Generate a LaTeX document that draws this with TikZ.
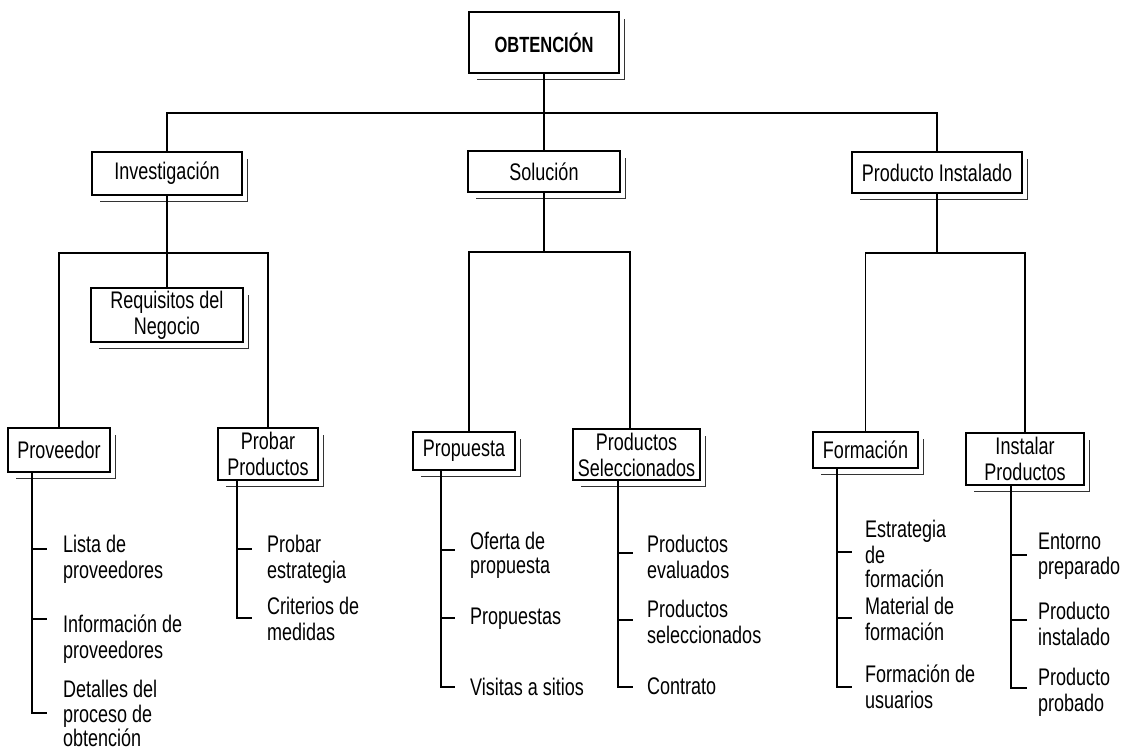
\documentclass[tikz,border=0pt]{standalone}
\usepackage{fontspec}
\setmainfont{Liberation Sans}[FakeStretch=0.75]
\usetikzlibrary{calc}
\begin{document}
\begin{tikzpicture}[x=1pt,y=-1pt,
  box/.style={draw, line width=1.7pt, fill=white, inner sep=2pt, align=center,
    font=\fontsize{24}{26}\selectfont},
  link/.style={line width=1.7pt},
  heavylink/.style={line width=2.6pt},
  shadeline/.style={line width=0.9pt, black!80},
  entry/.style={anchor=north west, inner sep=0pt, align=left,
    font=\fontsize{24}{24}\selectfont},
]
\useasboundingbox (0,0) rectangle (1133,753);

% ---------- boxes ----------
\node[box, minimum width=150pt, minimum height=61pt,
      font=\fontsize{22}{24}\selectfont\bfseries] (obt) at (544,42.5) {OBTENCIÓN};
\node[box, minimum width=150pt, minimum height=43pt] (inv) at (167,173.5) {Investigación};
\node[box, minimum width=152pt, minimum height=41pt] (sol) at (544,171.5) {Solución};
\node[box, minimum width=170pt, minimum height=41pt] (pin) at (937,172.5) {Producto Instalado};
\node[box, minimum width=152pt, minimum height=54pt] (req) at (167,315) {Requisitos del\\Negocio};
\node[box, minimum width=102pt, minimum height=44pt] (prov) at (59,450) {Proveedor};
\node[box, minimum width=100pt, minimum height=52pt] (pp) at (268,454) {Probar\\Productos};
\node[box, minimum width=102pt, minimum height=38pt] (prop) at (464,451) {Propuesta};
\node[box, minimum width=127pt, minimum height=51pt] (psel) at (636.5,454.5) {Productos\\Seleccionados};
\node[box, minimum width=105pt, minimum height=36pt] (form) at (865.5,450) {Formación};
\node[box, minimum width=118pt, minimum height=52pt] (inst) at (1025,459) {Instalar\\Productos};

% offset outline behind each box (right and bottom edges)
\foreach \n in {obt,inv,sol,pin,req,prov,pp,prop,psel,form,inst}
  \draw[shadeline] ($(\n.north east)+(5,8)$) -- ($(\n.south east)+(5,6)$) -- ($(\n.south west)+(9,6)$);

% ---------- first level ----------
\coordinate (topbar) at (0,113);
\draw[link] (obt.south) -- (obt.south |- topbar);
\draw[link] (inv.north) -- (inv.north |- topbar) -- (pin.north |- topbar) -- (pin.north);
\draw[link] (sol.north |- topbar) -- (sol.north);

% ---------- Investigación ----------
\coordinate (invbar) at (0,253);
\draw[link] (inv.south) -- (req.north);
\draw[link] (prov.north) -- (prov.north |- invbar) -- (pp.north |- invbar) -- (pp.north);

% ---------- Solución ----------
\coordinate (solL) at (469,252);
\coordinate (solR) at (630,252);
\draw[heavylink] (sol.south) -- (sol.south |- solL);
\draw[heavylink] (solL |- prop.north) -- (solL) -- (solR) -- (solR |- psel.north);

% ---------- Producto Instalado ----------
\coordinate (pinbar) at (0,253);
\draw[link] (pin.south) -- (pin.south |- pinbar);
\draw[link] (form.north) -- (form.north |- pinbar) -- (inst.north |- pinbar) -- (inst.north);

% ---------- Proveedor ----------
\coordinate (s1) at (32,0);
\coordinate (k11) at (47,549);
\coordinate (k12) at (47,619);
\coordinate (k13) at (47,713);
\draw[link] (prov.south -| s1) -- (s1 |- k13) -- (k13);
\draw[link] (s1 |- k11) -- (k11);
\draw[link] (s1 |- k12) -- (k12);
\node[entry] (l11) at (63,535) {\strut Lista de\\proveedores};
\node[entry] (l12) at (63,615) {\strut Información de\\proveedores};
\node[entry, font=\fontsize{24}{22}\selectfont] (l13) at (63,680) {\strut Detalles del\\proceso de\\obtención};

% ---------- Probar Productos ----------
\coordinate (s2) at (237,0);
\coordinate (k21) at (252,549);
\coordinate (k22) at (252,618);
\draw[link] (pp.south -| s2) -- (s2 |- k22) -- (k22);
\draw[link] (s2 |- k21) -- (k21);
\node[entry] (l21) at (267,535) {\strut Probar\\estrategia};
\node[entry] (l22) at (267,597) {\strut Criterios de\\medidas};

% ---------- Propuesta ----------
\coordinate (s3) at (441,0);
\coordinate (k31) at (455,550);
\coordinate (k32) at (455,618);
\coordinate (k33) at (455,687);
\draw[heavylink] (prop.south -| s3) -- (s3 |- k33) -- (k33);
\draw[link] (s3 |- k31) -- (k31);
\draw[link] (s3 |- k32) -- (k32);
\node[entry] (l31) at (470,532) {\strut Oferta de\\propuesta};
\node[entry] (l32) at (470,607) {\strut Propuestas};
\node[entry] (l33) at (470,678) {\strut Visitas a sitios};

% ---------- Productos Seleccionados ----------
\coordinate (s4) at (618,0);
\coordinate (k41) at (633,553);
\coordinate (k42) at (633,620);
\coordinate (k43) at (633,687);
\draw[link] (psel.south -| s4) -- (s4 |- k43) -- (k43);
\draw[link] (s4 |- k41) -- (k41);
\draw[link] (s4 |- k42) -- (k42);
\node[entry] (l41) at (647,535) {\strut Productos\\evaluados};
\node[entry] (l42) at (647,600) {\strut Productos\\seleccionados};
\node[entry] (l43) at (647,677) {\strut Contrato};

% ---------- Formación ----------
\coordinate (s5) at (837,0);
\coordinate (k51) at (852,552);
\coordinate (k52) at (852,618);
\coordinate (k53) at (852,687);
\draw[link] (form.south -| s5) -- (s5 |- k53) -- (k53);
\draw[link] (s5 |- k51) -- (k51);
\draw[link] (s5 |- k52) -- (k52);
\node[entry] (l51) at (865,520) {\strut Estrategia\\de\\formación};
\node[entry] (l52) at (865,597) {\strut Material de\\formación};
\node[entry] (l53) at (865,665) {\strut Formación de\\usuarios};

% ---------- Instalar Productos ----------
\coordinate (s6) at (1011,0);
\coordinate (k61) at (1027,555);
\coordinate (k62) at (1027,620);
\coordinate (k63) at (1027,688);
\draw[link] (inst.south -| s6) -- (s6 |- k63) -- (k63);
\draw[link] (s6 |- k61) -- (k61);
\draw[link] (s6 |- k62) -- (k62);
\node[entry] (l61) at (1038,532) {\strut Entorno\\preparado};
\node[entry] (l62) at (1038,602) {\strut Producto\\instalado};
\node[entry] (l63) at (1038,668) {\strut Producto\\probado};
\end{tikzpicture}
\end{document}
